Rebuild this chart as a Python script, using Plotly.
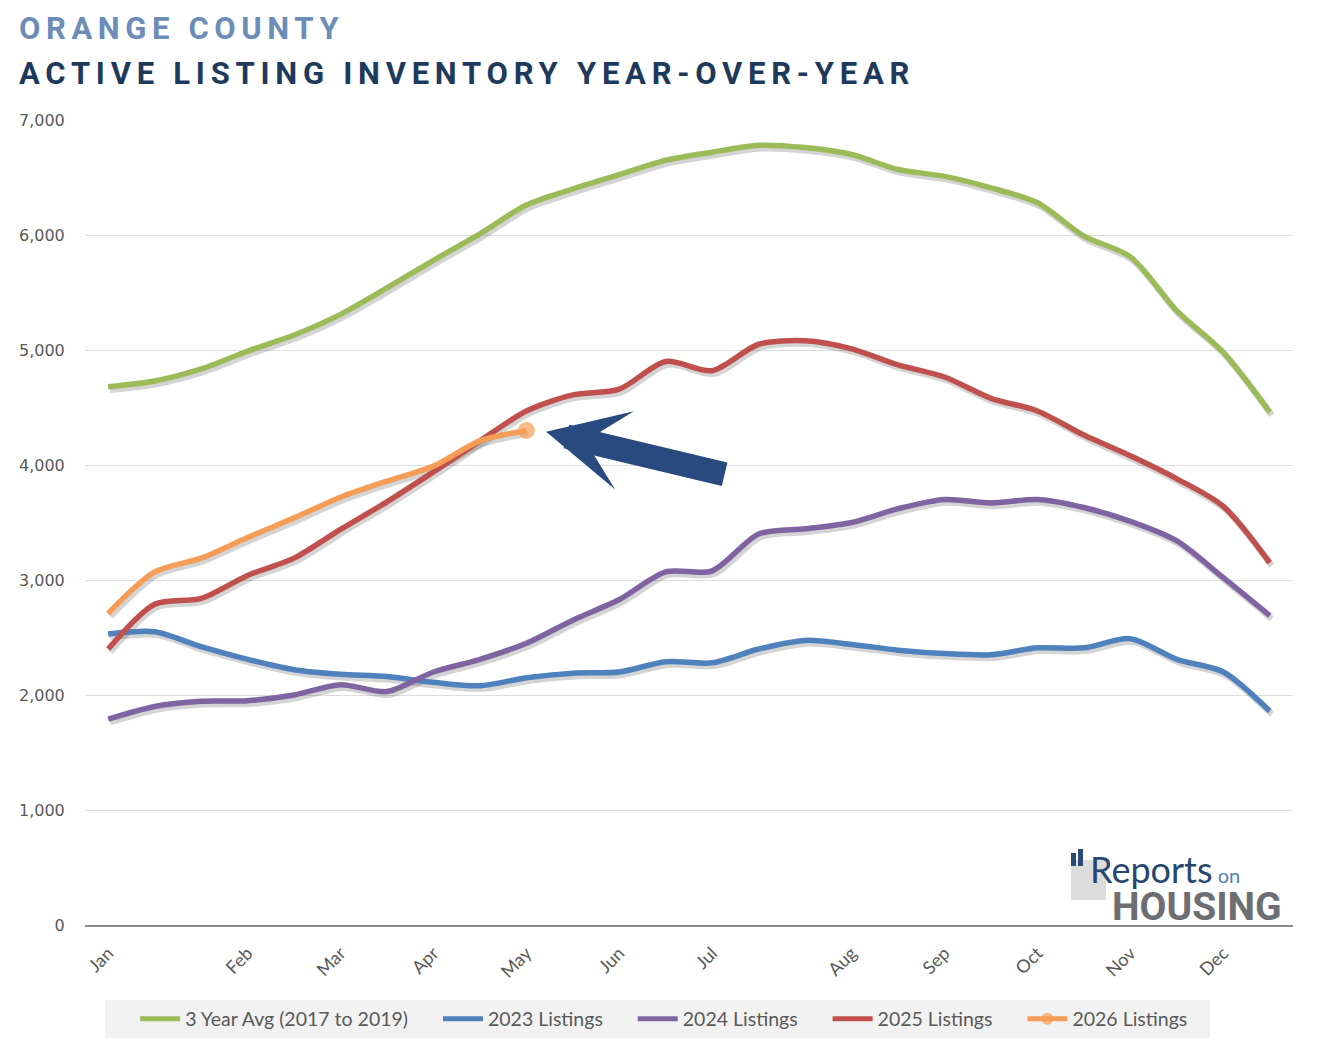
import plotly.graph_objects as go

# ---------------- data (weekly index, every 2nd week) ----------------
weeks = [0, 2, 4, 6, 8, 10, 12, 14, 16, 18, 20, 22, 24, 26, 28, 30, 32, 34, 36, 38, 40, 42, 44, 46, 48, 50]
month_ticks = [0, 6, 10, 14, 18, 22, 26, 32, 36, 40, 44, 48]
month_labels = ["Jan", "Feb", "Mar", "Apr", "May", "Jun", "Jul", "Aug", "Sep", "Oct", "Nov", "Dec"]

avg_2017_2019 = [4680, 4730, 4835, 4990, 5130, 5310, 5540, 5780, 6010, 6260, 6400, 6525, 6650,
                 6720, 6780, 6760, 6700, 6570, 6510, 6410, 6280, 5990, 5810, 5340, 4980, 4460]
listings_2023 = [2530, 2550, 2420, 2310, 2220, 2180, 2160, 2110, 2080, 2150, 2190, 2200, 2290,
                 2280, 2400, 2475, 2440, 2390, 2360, 2350, 2410, 2410, 2490, 2310, 2200, 1860]
listings_2024 = [1790, 1900, 1945, 1950, 2000, 2090, 2030, 2200, 2310, 2450, 2650, 2830, 3070,
                 3080, 3400, 3445, 3500, 3620, 3700, 3670, 3700, 3630, 3510, 3340, 3020, 2690]
listings_2025 = [2400, 2790, 2840, 3040, 3190, 3440, 3680, 3940, 4210, 4470, 4610, 4660, 4900,
                 4820, 5050, 5080, 5010, 4870, 4765, 4580, 4470, 4260, 4080, 3880, 3640, 3150]
listings_2026 = [2710, 3070, 3190, 3370, 3540, 3720, 3860, 3990, 4210, 4300]

series_names = ["3 Year Avg (2017 to 2019)", "2023 Listings", "2024 Listings", "2025 Listings", "2026 Listings"]
series_colors = ["#9bbb59", "#4f81bd", "#8064a2", "#c0504d", "#f59d56"]

title_top = "ORANGE COUNTY"
title_main = "ACTIVE LISTING INVENTORY YEAR-OVER-YEAR"

# ---------------- geometry (reference pixels -> figure) ----------------
OFF = 8                      # page body margin
W, H = 1302, 1030
REF_L, REF_R, REF_T, REF_B = 85, 1293, 120, 925
L = REF_L - OFF
T = REF_T - OFF
R = W - (REF_R - OFF)
B = H - (REF_B - OFF)
PW, PH = W - L - R, H - T - B

X_RANGE = [-1, 51]
Y_RANGE = [0, 7000]


def px(xp):
    return (xp - OFF - L) / PW


def py(yp):
    return (H - B - (yp - OFF)) / PH


# shadow offset (pixels) expressed as axis-range shifts
SHX, SHY = 2.0, 3.0
dx = SHX * (X_RANGE[1] - X_RANGE[0]) / PW
dy = SHY * (Y_RANGE[1] - Y_RANGE[0]) / PH

fig = go.Figure()
full_series = [avg_2017_2019, listings_2023, listings_2024, listings_2025, listings_2026]

# empty trace so the visible base axes (grid, ticks) are drawn
fig.add_trace(go.Scatter(x=[], y=[], mode="lines", showlegend=False, hoverinfo="skip"))

# soft shadows (drawn on a shifted, hidden overlay axis)
for vals in full_series:
    fig.add_trace(go.Scatter(
        x=weeks[:len(vals)], y=vals, mode="lines", xaxis="x2", yaxis="y2",
        line=dict(color="rgba(60,60,60,0.22)", width=6.5, shape="spline", smoothing=0.8),
        hoverinfo="skip", showlegend=False,
    ))

pad = "\u00a0" * 5
for name, col, vals in zip(series_names[:4], series_colors[:4], full_series[:4]):
    fig.add_trace(go.Scatter(
        x=weeks[:len(vals)], y=vals, name=name + pad, mode="lines", xaxis="x3", yaxis="y3",
        line=dict(color=col, width=5.5, shape="spline", smoothing=0.8),
        hoverinfo="skip",
    ))

n26 = len(listings_2026)
fig.add_trace(go.Scatter(
    x=weeks[:n26], y=listings_2026, name=series_names[4], mode="lines+markers",
    xaxis="x3", yaxis="y3",
    line=dict(color=series_colors[4], width=5.5, shape="spline", smoothing=0.8),
    marker=dict(color=series_colors[4], size=[0] * (n26 - 1) + [17], line=dict(width=0)),
    hoverinfo="skip",
))

# arrow pointing at the latest 2026 value
fig.add_annotation(
    x=weeks[n26 - 1] + 0.85, y=listings_2026[-1] - 10, xref="x3", yref="y3",
    ax=180, ay=43, axref="pixel", ayref="pixel",
    showarrow=True, arrowhead=3, arrowsize=0.56, arrowwidth=24,
    arrowcolor="#284a7e", text="",
)

# titles
fig.add_annotation(
    x=px(17), y=py(29), xref="paper", yref="paper", xanchor="left", yanchor="middle",
    text='<span style="letter-spacing:5.6px">' + title_top + "</span>",
    showarrow=False, font=dict(family="Roboto", size=31, color="#6c8db7", weight="bold"),
)
fig.add_annotation(
    x=px(17), y=py(74), xref="paper", yref="paper", xanchor="left", yanchor="middle",
    text='<span style="letter-spacing:5.75px">' + title_main + "</span>",
    showarrow=False, font=dict(family="Roboto", size=31, color="#1d3a5c", weight="bold"),
)

# logo (text-based)
fig.add_shape(type="rect", xref="paper", yref="paper",
              x0=px(1071), x1=px(1106), y0=py(900), y1=py(860),
              fillcolor="#dcdcdc", line=dict(width=0), layer="above")
fig.add_shape(type="rect", xref="paper", yref="paper",
              x0=px(1071), x1=px(1076), y0=py(866), y1=py(853),
              fillcolor="#2b4a7c", line=dict(width=0), layer="above")
fig.add_shape(type="rect", xref="paper", yref="paper",
              x0=px(1078), x1=px(1083), y0=py(866), y1=py(849),
              fillcolor="#2b4a7c", line=dict(width=0), layer="above")
fig.add_annotation(
    x=px(1088), y=py(869), xref="paper", yref="paper", xanchor="left", yanchor="middle",
    text='Reports<span style="font-size:20px;color:#4f7fb5"> on</span>', showarrow=False,
    font=dict(family="Lato", size=36, color="#264770"),
)
fig.add_annotation(
    x=px(1110), y=py(907), xref="paper", yref="paper", xanchor="left", yanchor="middle",
    text="HOUSING", showarrow=False,
    font=dict(family="Roboto", size=39, color="#6d6e71", weight="bold"),
)

# legend background box
fig.add_shape(type="rect", xref="paper", yref="paper",
              x0=px(105), x1=px(1210), y0=py(1038), y1=py(1000),
              fillcolor="#f2f2f2", line=dict(width=0), layer="below")

hidden = dict(visible=False, showgrid=False, zeroline=False, fixedrange=True)

fig.update_layout(
    width=W, height=H,
    margin=dict(l=L, r=R, t=T, b=B, autoexpand=False),
    paper_bgcolor="white", plot_bgcolor="rgba(0,0,0,0)",
    showlegend=True,
    legend=dict(
        orientation="h", x=px(140) - 0.004, xanchor="left", y=py(1019), yanchor="middle",
        bgcolor="rgba(0,0,0,0)", font=dict(family="Lato", size=19.5, color="#595959"),
        itemwidth=40, itemsizing="constant", traceorder="normal",
    ),
    xaxis=dict(
        range=X_RANGE, tickmode="array", tickvals=month_ticks, ticktext=month_labels,
        tickangle=-45, showgrid=False, zeroline=False,
        showline=True, linecolor="#8a8a8a", linewidth=1.5,
        ticks="outside", ticklen=9, tickcolor="rgba(0,0,0,0)",
        tickfont=dict(family="Lato", size=18, color="#595959"),
    ),
    yaxis=dict(
        range=Y_RANGE, dtick=1000, tickformat=",", showgrid=True,
        gridcolor="#dedede", gridwidth=1.2, zeroline=False, showline=False,
        ticks="outside", ticklen=16, tickcolor="rgba(0,0,0,0)",
        tickfont=dict(family="DejaVu Sans", size=16, color="#595959"),
    ),
    xaxis2=dict(overlaying="x", range=[X_RANGE[0] - dx, X_RANGE[1] - dx], **hidden),
    yaxis2=dict(overlaying="y", range=[Y_RANGE[0] + dy, Y_RANGE[1] + dy], **hidden),
    xaxis3=dict(overlaying="x", range=X_RANGE, **hidden),
    yaxis3=dict(overlaying="y", range=Y_RANGE, **hidden),
)

fig.write_html("out.html")
